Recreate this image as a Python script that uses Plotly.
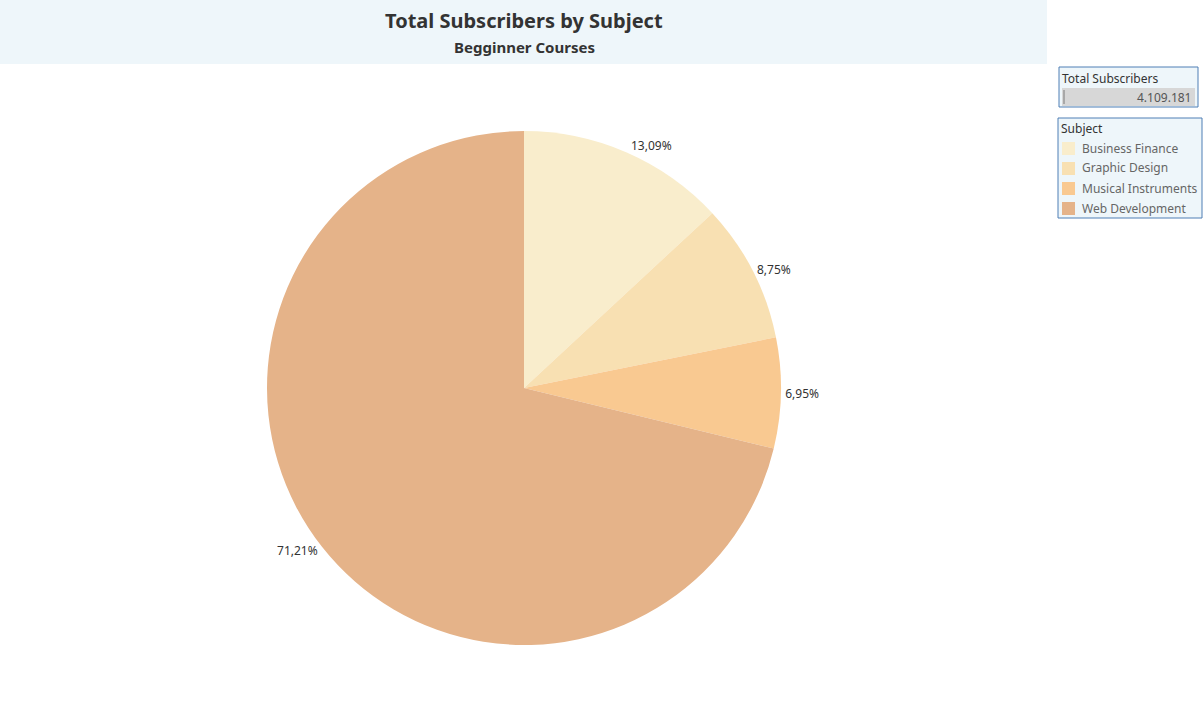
import plotly.graph_objects as go

subjects = ["Business Finance", "Graphic Design", "Musical Instruments", "Web Development"]
subscribers = [537892, 359553, 285588, 2926148]
colors = ["#F9EDCC", "#F8E0B2", "#F9C991", "#E5B389"]
total_label = "4.109.181"
title_text = "Total Subscribers by Subject"
subtitle_text = "Begginner Courses"

W, H = 1203, 709
FONT = "Noto Sans"

def px_x(x):
    return x / W

def px_y(y):
    return 1 - y / H

cx, cy, half = 524, 388, 257

fig = go.Figure(go.Pie(
    labels=subjects,
    values=subscribers,
    marker=dict(colors=colors, line=dict(width=0)),
    sort=False,
    direction="clockwise",
    rotation=0,
    textposition="outside",
    texttemplate="%{percent:.2%}",
    textfont=dict(family=FONT, size=12, color="#333333"),
    showlegend=False,
    hoverinfo="label+value+percent",
    domain=dict(x=[px_x(cx - half), px_x(cx + half)], y=[px_y(cy + half), px_y(cy - half)]),
))

shapes = []
annotations = []

# title band
shapes.append(dict(type="rect", xref="paper", yref="paper", x0=0, x1=px_x(1047),
                   y0=px_y(64), y1=1, fillcolor="#EEF6FA", line=dict(width=0), layer="below"))
annotations.append(dict(text="<b>" + title_text + "</b>", x=px_x(524), y=px_y(21), xref="paper", yref="paper",
                        showarrow=False, font=dict(family=FONT, size=20, color="#333333"),
                        xanchor="center", yanchor="middle"))
annotations.append(dict(text="<b>" + subtitle_text + "</b>", x=px_x(524), y=px_y(47), xref="paper", yref="paper",
                        showarrow=False, font=dict(family=FONT, size=15, color="#333333"),
                        xanchor="center", yanchor="middle"))

# total subscribers box
shapes.append(dict(type="rect", xref="paper", yref="paper", x0=px_x(1059), x1=px_x(1198),
                   y0=px_y(107), y1=px_y(67), fillcolor="#EEF6FA", line=dict(color="#4F7FB5", width=1)))
shapes.append(dict(type="rect", xref="paper", yref="paper", x0=px_x(1062), x1=px_x(1195),
                   y0=px_y(106), y1=px_y(88), fillcolor="#D7D7D7", line=dict(width=0)))
shapes.append(dict(type="line", xref="paper", yref="paper", x0=px_x(1064), x1=px_x(1064),
                   y0=px_y(104), y1=px_y(90), line=dict(color="#A8A8A8", width=2)))
annotations.append(dict(text="Total Subscribers", x=px_x(1060), y=px_y(78), xref="paper", yref="paper",
                        showarrow=False, font=dict(family=FONT, size=12, color="#333333"),
                        xanchor="left", yanchor="middle"))
annotations.append(dict(text=total_label, x=px_x(1193), y=px_y(97), xref="paper", yref="paper",
                        showarrow=False, font=dict(family=FONT, size=12, color="#555555"),
                        xanchor="right", yanchor="middle"))

# subject legend box
shapes.append(dict(type="rect", xref="paper", yref="paper", x0=px_x(1058), x1=px_x(1202),
                   y0=px_y(218), y1=px_y(118), fillcolor="#EEF6FA", line=dict(color="#4F7FB5", width=1)))
annotations.append(dict(text="Subject", x=px_x(1059), y=px_y(129), xref="paper", yref="paper",
                        showarrow=False, font=dict(family=FONT, size=12, color="#333333"),
                        xanchor="left", yanchor="middle"))
for i, (name, col) in enumerate(zip(subjects, colors)):
    yc = 148 + 20 * i
    shapes.append(dict(type="rect", xref="paper", yref="paper", x0=px_x(1062), x1=px_x(1075),
                       y0=px_y(yc + 7), y1=px_y(yc - 6), fillcolor=col, line=dict(width=0)))
    annotations.append(dict(text=name, x=px_x(1080), y=px_y(yc), xref="paper", yref="paper",
                            showarrow=False, font=dict(family=FONT, size=12, color="#666666"),
                            xanchor="left", yanchor="middle"))

fig.update_layout(
    width=W, height=H,
    margin=dict(l=0, r=0, t=0, b=0),
    paper_bgcolor="white",
    plot_bgcolor="white",
    separators=",.",
    shapes=shapes,
    annotations=annotations,
    font=dict(family=FONT),
)

fig.write_html("out.html")
